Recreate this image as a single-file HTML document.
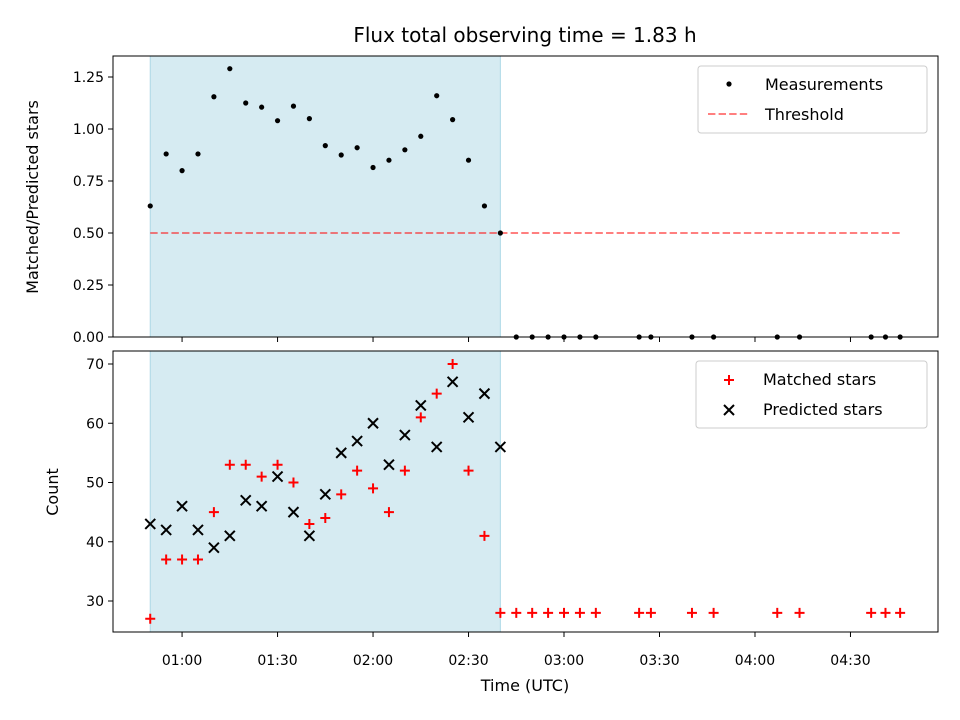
<!DOCTYPE html>
<html><head><meta charset="utf-8"><style>
body{margin:0;background:#fff}
svg{display:block;font-family:"DejaVu Sans","Liberation Sans",sans-serif}
</style></head><body>
<svg id="c" width="960" height="720"></svg>
<script>
const ratioTimes=[50,55,60,65,70,75,80,85,90,95,100,105,110,115,120,125,130,135,140,145,150,155,160];
const ratioValues=[0.63,0.88,0.80,0.88,1.155,1.29,1.125,1.105,1.04,1.11,1.05,0.92,0.875,0.91,0.815,0.85,0.90,0.965,1.16,1.045,0.85,0.63,0.50];
const zeroTimes=[165,170,175,180,185,190,203.6,207.3,220.2,227,247,254,276.5,281,285.6];
const matchedValues=[27,37,37,37,45,53,53,51,53,50,43,44,48,52,49,45,52,61,65,70,52,41,28];
const predictedValues=[43,42,46,42,39,41,47,46,51,45,41,48,55,57,60,53,58,63,56,67,61,65,56];
const zeroMatched=28;
const threshold=0.5;
const spanStart=50, spanEnd=160;
const xTicks=[60,90,120,150,180,210,240,270];
const xTickLabels=["01:00","01:30","02:00","02:30","03:00","03:30","04:00","04:30"];
const topTicks=[0,0.25,0.5,0.75,1.0,1.25];
const topTickLabels=["0.00","0.25","0.50","0.75","1.00","1.25"];
const botTicks=[30,40,50,60,70];

const NS="http://www.w3.org/2000/svg";
const svg=document.getElementById('c');
function el(tag,attrs,parent,text){const e=document.createElementNS(NS,tag);for(const k in attrs)e.setAttribute(k,attrs[k]);if(text!==undefined)e.textContent=text;(parent||svg).appendChild(e);return e;}
const L=113,R=938;
const xMin=38.3,xMax=297.5;
const X=t=>L+(t-xMin)/(xMax-xMin)*(R-L);
const T1=56,B1=337,T2=351,B2=632;
const yTop=v=>B1-v*208;
const yBot=v=>601-(v-30)*5.925;

el('text',{x:525,y:42,'font-size':20,'text-anchor':'middle',},svg,'Flux total observing time = 1.83 h');

let g=el('g',{});
el('rect',{x:X(spanStart),y:T1,width:X(spanEnd)-X(spanStart),height:B1-T1,fill:'#add8e6','fill-opacity':0.5,stroke:'#add8e6',},g);
el('line',{x1:X(spanStart),x2:X(285.6),y1:yTop(threshold),y2:yTop(threshold),stroke:'#ff0000','stroke-opacity':0.5,'stroke-width':2,'stroke-dasharray':'7.4,3.2',},g);
ratioTimes.forEach((t,i)=>{const c=el('circle',{cx:X(t),cy:yTop(ratioValues[i]),r:2.6,fill:'#000'},g);});
zeroTimes.forEach(t=>{const c=el('circle',{cx:X(t),cy:yTop(0),r:2.6,fill:'#000'},g);});
el('rect',{x:L,y:T1,width:R-L,height:B1-T1,fill:'none',stroke:'#000','stroke-width':1,},g);
topTicks.forEach((v,i)=>{el('line',{x1:L-5,x2:L,y1:yTop(v),y2:yTop(v),stroke:'#000'},g);el('text',{x:L-9,y:yTop(v)+5,'font-size':14,'text-anchor':'end',},g,topTickLabels[i]);});
xTicks.forEach(t=>el('line',{x1:X(t),x2:X(t),y1:B1,y2:B1+5,stroke:'#000'},g));
el('text',{x:38,y:197,'font-size':16,'text-anchor':'middle',transform:'rotate(-90 38 197)',},g,'Matched/Predicted stars');
let lg=el('g',{});
el('rect',{x:698,y:66,width:229,height:67,rx:3,fill:'#fff',stroke:'#ccc'},lg);
el('circle',{cx:729,cy:84,r:2.6,fill:'#000'},lg);
el('text',{x:765,y:90,'font-size':16},lg,'Measurements');
el('line',{x1:708,x2:749,y1:114,y2:114,stroke:'#ff0000','stroke-opacity':0.5,'stroke-width':2,'stroke-dasharray':'7.4,3.2'},lg);
el('text',{x:765,y:120,'font-size':16},lg,'Threshold');

g=el('g',{});
el('rect',{x:X(spanStart),y:T2,width:X(spanEnd)-X(spanStart),height:B2-T2,fill:'#add8e6','fill-opacity':0.5,stroke:'#add8e6',},g);
const m=5;
function plus(x,y,n){const p=el('path',{d:`M${x-m},${y}H${x+m}M${x},${y-m}V${y+m}`,stroke:'#f00','stroke-width':2},g);}
function cross(x,y){const p=el('path',{d:`M${x-m},${y-m}L${x+m},${y+m}M${x-m},${y+m}L${x+m},${y-m}`,stroke:'#000','stroke-width':2},g);}
ratioTimes.forEach((t,i)=>cross(X(t),yBot(predictedValues[i])));
ratioTimes.forEach((t,i)=>plus(X(t),yBot(matchedValues[i]),'matched-marker'));
zeroTimes.forEach(t=>plus(X(t),yBot(zeroMatched),'matched-marker-late'));
el('rect',{x:L,y:T2,width:R-L,height:B2-T2,fill:'none',stroke:'#000',},g);
botTicks.forEach(v=>{el('line',{x1:L-5,x2:L,y1:yBot(v),y2:yBot(v),stroke:'#000'},g);el('text',{x:L-9,y:yBot(v)+5,'font-size':14,'text-anchor':'end',},g,String(v));});
xTicks.forEach((t,i)=>{el('line',{x1:X(t),x2:X(t),y1:B2,y2:B2+5,stroke:'#000'},g);el('text',{x:X(t),y:B2+33,'font-size':14,'text-anchor':'middle',},g,xTickLabels[i]);});
el('text',{x:58,y:492,'font-size':16,'text-anchor':'middle',transform:'rotate(-90 58 492)',},g,'Count');
el('text',{x:525,y:691,'font-size':16,'text-anchor':'middle',},g,'Time (UTC)');
lg=el('g',{});
el('rect',{x:696,y:361,width:231,height:67,rx:3,fill:'#fff',stroke:'#ccc'},lg);
el('path',{d:'M724,380H734M729,375V385',stroke:'#f00','stroke-width':2},lg);
el('text',{x:763,y:385,'font-size':16},lg,'Matched stars');
el('path',{d:'M724,405L734,415M724,415L734,405',stroke:'#000','stroke-width':2},lg);
el('text',{x:763,y:415,'font-size':16},lg,'Predicted stars');
</script>
</body></html>
